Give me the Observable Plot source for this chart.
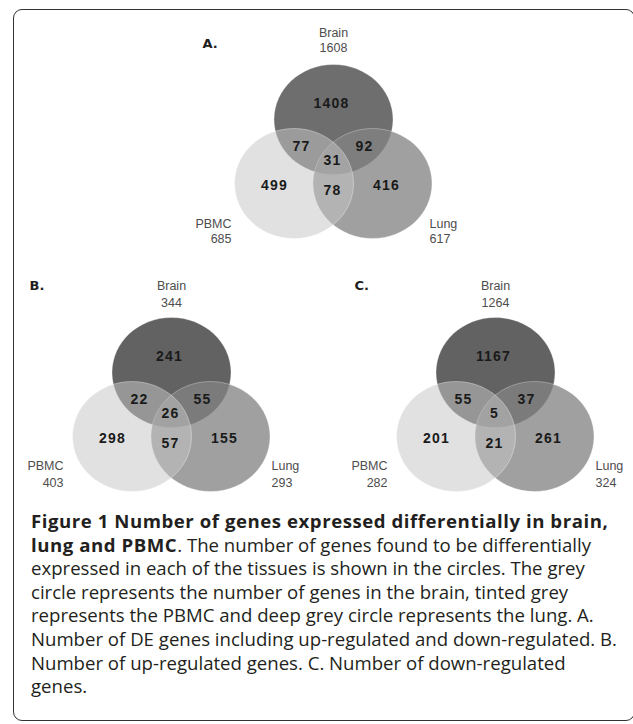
<!DOCTYPE html>
<html>
<head>
<meta charset="utf-8">
<script src="https://cdn.jsdelivr.net/npm/d3@7"></script>
<script src="https://cdn.jsdelivr.net/npm/@observablehq/plot@0.6"></script>
<style>
  html, body { margin: 0; padding: 0; background: #fff; }
  #page { position: relative; width: 633px; height: 724px; overflow: hidden; }
  #frame { position: absolute; left: 13px; top: 9px; width: 622px; height: 712px;
           box-sizing: border-box; border: 1.6px solid #333; border-radius: 9px; }
  #chart { position: absolute; left: 0; top: 0; }
  #caption { position: absolute; left: 31px; top: 509px; font-family: "Open Sans", sans-serif;
             font-size: 18.6px; line-height: 23.6px; color: #231f20; }
  #caption div { white-space: nowrap; }
  #caption b { letter-spacing: 0.55px; }
</style>
</head>
<body>
<div id="page">
  <div id="frame"></div>
  <div id="chart"></div>
  <div id="caption"></div>
</div>
<script>
// ---------- DATA ----------
const panels = ["A", "B", "C"];
const panelLetters = ["A.", "B.", "C."];
const setNames = ["Brain", "PBMC", "Lung"];
const brainTotals = [1608, 344, 1264];
const pbmcTotals = [685, 403, 282];
const lungTotals = [617, 293, 324];
const regionNames = ["Brain only", "Brain & PBMC", "Brain & Lung", "All three", "PBMC only", "PBMC & Lung", "Lung only"];
const countsA = [1408, 77, 92, 31, 499, 78, 416];
const countsB = [241, 22, 55, 26, 298, 57, 155];
const countsC = [1167, 55, 37, 5, 201, 21, 261];
const captionBold1 = "Figure 1 Number of genes expressed differentially in brain,";
const captionBold2 = "lung and PBMC";
const captionLines = [
  ". The number of genes found to be differentially",
  "expressed in each of the tissues is shown in the circles. The grey",
  "circle represents the number of genes in the brain, tinted grey",
  "represents the PBMC and deep grey circle represents the lung. A.",
  "Number of DE genes including up-regulated and down-regulated. B.",
  "Number of up-regulated genes. C. Number of down-regulated",
  "genes."
];

// ---------- LAYOUT (pixels) ----------
const W = 633, H = 505;
const layout = {
  A: {anchor: [333, 119], letter: [-131, -76], pbmc: [-102, 104], lung: [96, 104], gap: 15, top: [-87, -72], brainFill: "#6e6e6e"},
  B: {anchor: [171, 372], letter: [-142, -87], pbmc: [-108, 93], lung: [100, 93], gap: 17, top: [-87, -70], brainFill: "#626262"},
  C: {anchor: [495, 372], letter: [-141, -87], pbmc: [-108, 93], lung: [100, 93], gap: 17, top: [-87, -70], brainFill: "#626262"}
};
const circleOffset = {Brain: [0, 0], PBMC: [-39.5, 64], Lung: [39, 64]};
const regionOffset = [[-2, -16], [-32, 27], [31, 27], [-1, 41], [-59, 66], [-1, 71], [53, 66]];
const R = 57, AX = 59.5 / 57, AY = 55 / 57;

const ellipse = {
  draw(ctx, size) {
    const r = Math.sqrt(size / Math.PI), rx = r * AX, ry = r * AY, k = 0.5523;
    ctx.moveTo(rx, 0);
    ctx.bezierCurveTo(rx, k * ry, k * rx, ry, 0, ry);
    ctx.bezierCurveTo(-k * rx, ry, -rx, k * ry, -rx, 0);
    ctx.bezierCurveTo(-rx, -k * ry, -k * rx, -ry, 0, -ry);
    ctx.bezierCurveTo(k * rx, -ry, rx, -k * ry, rx, 0);
    ctx.closePath();
  }
};

const countsByPanel = [countsA, countsB, countsC];
const circles = panels.flatMap((p) => setNames.map((s) => ({panel: p, set: s,
  x: layout[p].anchor[0] + circleOffset[s][0], y: layout[p].anchor[1] + circleOffset[s][1],
  fill: s === "Brain" ? layout[p].brainFill : null})));
const regions = panels.flatMap((p, i) => regionNames.map((r, j) => ({panel: p, region: r, count: countsByPanel[i][j],
  x: layout[p].anchor[0] + regionOffset[j][0], y: layout[p].anchor[1] + regionOffset[j][1]})));
const letters = panels.map((p, i) => ({text: panelLetters[i], x: layout[p].anchor[0] + layout[p].letter[0], y: layout[p].anchor[1] + layout[p].letter[1]}));
const topLabels = panels.flatMap((p, i) => [
  {text: setNames[0], x: layout[p].anchor[0], y: layout[p].anchor[1] + layout[p].top[0]},
  {text: String(brainTotals[i]), x: layout[p].anchor[0], y: layout[p].anchor[1] + layout[p].top[1]}]);
const pbmcLabels = panels.flatMap((p, i) => [
  {text: setNames[1], x: layout[p].anchor[0] + layout[p].pbmc[0], y: layout[p].anchor[1] + layout[p].pbmc[1]},
  {text: String(pbmcTotals[i]), x: layout[p].anchor[0] + layout[p].pbmc[0], y: layout[p].anchor[1] + layout[p].pbmc[1] + layout[p].gap}]);
const lungLabels = panels.flatMap((p, i) => [
  {text: setNames[2], x: layout[p].anchor[0] + layout[p].lung[0], y: layout[p].anchor[1] + layout[p].lung[1]},
  {text: String(lungTotals[i]), x: layout[p].anchor[0] + layout[p].lung[0], y: layout[p].anchor[1] + layout[p].lung[1] + layout[p].gap}]);

const labelStyle = {fill: "#4d4d4d", fontSize: 12.5, fontFamily: "Liberation Sans, Arial, sans-serif"};

const chart = Plot.plot({
  width: W, height: H,
  margin: 0,
  x: {domain: [0, W], range: [0, W], axis: null},
  y: {domain: [0, H], range: [0, H], axis: null},
  color: {type: "identity"},
  marks: [
    Plot.dot(circles.filter((d) => d.set === "Brain"), {x: "x", y: "y", r: R, symbol: ellipse, fill: "fill", fillOpacity: 1, stroke: "white", strokeOpacity: 0.3, strokeWidth: 1}),
    Plot.dot(circles.filter((d) => d.set === "Lung"), {x: "x", y: "y", r: R, symbol: ellipse, fill: "#848484", fillOpacity: 0.77, stroke: "white", strokeOpacity: 0.3, strokeWidth: 1}),
    Plot.dot(circles.filter((d) => d.set === "PBMC"), {x: "x", y: "y", r: R, symbol: ellipse, fill: "#c6c6c6", fillOpacity: 0.52, stroke: "white", strokeOpacity: 0.35, strokeWidth: 1}),
    Plot.text(regions, {x: "x", y: "y", text: (d) => String(d.count), fill: "#1a1a1a", fontSize: 14, fontWeight: "bold", fontFamily: "Liberation Sans Narrow, Arial Narrow, Liberation Sans, sans-serif"}),
    Plot.text(topLabels, {x: "x", y: "y", text: "text", ...labelStyle}),
    Plot.text(pbmcLabels, {x: "x", y: "y", text: "text", textAnchor: "end", ...labelStyle}),
    Plot.text(lungLabels, {x: "x", y: "y", text: "text", textAnchor: "start", ...labelStyle}),
    Plot.text(letters, {x: "x", y: "y", text: "text", textAnchor: "start", fill: "#1e1e1e", fontSize: 13, fontWeight: "bold", fontFamily: "DejaVu Sans, sans-serif"})
  ]
});
chart.querySelectorAll('g[font-weight="bold"] text').forEach((t) => { if (/^\d+$/.test(t.textContent)) t.style.letterSpacing = "1.2px"; });
document.getElementById("chart").appendChild(chart);

const cap = document.getElementById("caption");
const l1 = document.createElement("div");
const b1 = document.createElement("b"); b1.textContent = captionBold1; l1.appendChild(b1);
cap.appendChild(l1);
const l2 = document.createElement("div");
const b2 = document.createElement("b"); b2.textContent = captionBold2; l2.appendChild(b2);
l2.appendChild(document.createTextNode(captionLines[0]));
cap.appendChild(l2);
captionLines.slice(1).forEach((t) => { const d = document.createElement("div"); d.textContent = t; cap.appendChild(d); });
</script>
</body>
</html>
